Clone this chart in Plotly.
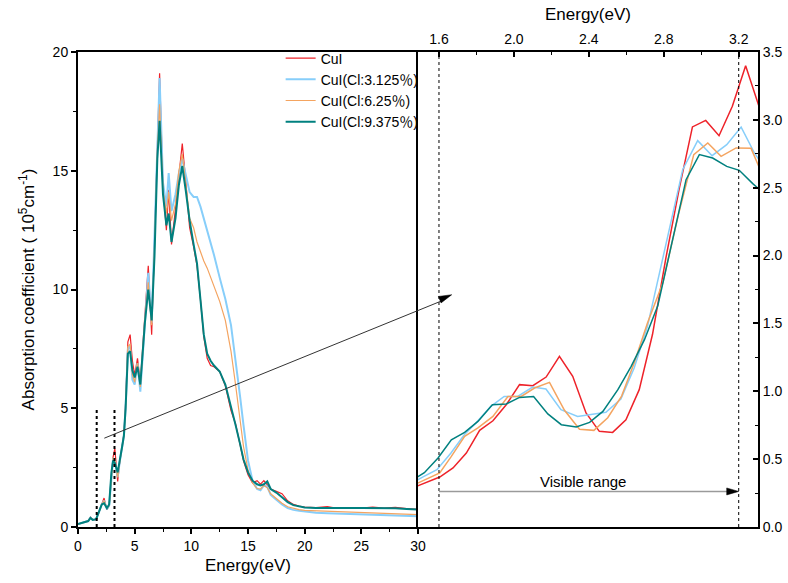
import math
import plotly.graph_objects as go

# ---------------- full spectrum, 0-30 eV (left panel) ----------------
energy = [0, 0.5, 0.9, 1.1, 1.3, 1.6, 1.9, 2.1, 2.3, 2.55,
          2.75, 2.95, 3.1, 3.25, 3.5, 3.7, 3.9, 4.05, 4.2, 4.4,
          4.6, 4.8, 5.0, 5.25, 5.5, 5.7, 5.9, 6.2, 6.5, 6.75,
          7.0, 7.2, 7.5, 7.8, 8.0, 8.25, 8.6, 8.9, 9.2, 9.5,
          9.85, 10.2, 10.5, 10.8, 11.1, 11.4, 11.7, 12.0, 12.5, 13.0,
          13.5, 13.9, 14.3, 14.6, 15.0, 15.4, 15.8, 16.1, 16.4, 16.7,
          17.0, 17.5, 18.0, 18.5, 19.0, 19.5, 20, 21, 22, 23,
          24, 25, 26, 27, 28, 29, 30]

abs_cui = [0.12, 0.18, 0.25, 0.42, 0.3, 0.32, 0.7, 0.95, 1.22, 0.73,
           0.9, 2.2, 2.95, 3.3, 1.92, 2.8, 3.5, 3.9, 5.2, 7.8,
           8.1, 7.0, 6.4, 7.1, 6.1, 7.6, 8.9, 11.0, 8.1, 12.0,
           16.2, 19.1, 14.3, 12.5, 14.2, 11.9, 13.4, 14.8, 16.15, 14.6,
           12.6, 11.8, 11.0, 9.6, 8.0, 7.1, 6.8, 6.75, 6.55, 5.95,
           4.9, 4.35, 3.4, 2.8, 2.2, 1.85, 1.95, 1.8, 1.95, 1.75,
           1.6, 1.5, 1.4, 1.1, 0.95, 0.88, 0.84, 0.82, 0.86, 0.78,
           0.82, 0.8, 0.84, 0.8, 0.83, 0.78, 0.74]

abs_cl3125 = [0.12, 0.18, 0.25, 0.4, 0.3, 0.32, 0.7, 0.95, 1.1, 0.75,
              0.9, 2.2, 2.9, 2.8, 2.1, 2.8, 3.45, 3.85, 5.0, 7.5,
              7.6, 6.2, 6.0, 6.9, 5.7, 7.2, 8.7, 10.7, 8.6, 12.0,
              16.0, 18.9, 14.5, 13.5, 14.9, 13.3, 14.0, 14.9, 15.5, 14.9,
              14.1, 13.9, 13.9, 13.5, 13.0, 12.55, 12.0, 11.45, 10.5, 9.6,
              8.5, 7.1, 5.5, 4.3, 2.8, 1.95, 1.6, 1.55, 1.75, 1.7,
              1.35, 1.15, 0.95, 0.8, 0.72, 0.68, 0.65, 0.6, 0.58, 0.56,
              0.55, 0.53, 0.5, 0.5, 0.48, 0.47, 0.45]

abs_cl625 = [0.12, 0.18, 0.25, 0.4, 0.3, 0.32, 0.7, 0.95, 1.1, 0.78,
             0.9, 2.2, 2.9, 2.85, 2.1, 2.8, 3.45, 3.85, 5.0, 7.6,
             7.7, 6.4, 6.1, 6.9, 5.9, 7.3, 8.7, 10.3, 8.5, 11.8,
             15.8, 17.8, 14.2, 13.2, 14.1, 12.9, 13.6, 15.0, 15.7, 14.5,
             13.0, 12.6, 12.0, 11.6, 11.2, 10.9, 10.5, 10.1, 9.5, 8.7,
             7.4, 6.0, 4.6, 3.4, 2.4, 1.85, 1.62, 1.6, 1.75, 1.65,
             1.4, 1.2, 1.0, 0.85, 0.78, 0.73, 0.7, 0.68, 0.66, 0.65,
             0.64, 0.63, 0.6, 0.58, 0.56, 0.54, 0.52]

abs_cl9375 = [0.12, 0.18, 0.25, 0.38, 0.3, 0.33, 0.72, 0.95, 1.0, 0.8,
              0.95, 2.3, 2.8, 2.7, 2.3, 2.8, 3.4, 3.85, 5.0, 7.3,
              7.4, 6.6, 6.3, 6.75, 6.0, 7.3, 8.6, 10.0, 8.7, 11.4,
              15.5, 17.1, 14.0, 12.7, 13.2, 12.0, 13.0, 14.4, 15.2, 14.2,
              12.9, 11.9, 11.1, 9.6, 8.1, 7.3, 7.0, 6.8, 6.55, 6.0,
              5.1, 4.3, 3.5, 2.85, 2.3, 1.95, 1.8, 1.75, 1.8, 1.92,
              1.6, 1.45, 1.25, 1.05, 0.92, 0.86, 0.82, 0.8, 0.79, 0.78,
              0.8, 0.8, 0.8, 0.8, 0.79, 0.76, 0.74]

# ---------------- visible-range detail (right panel) ----------------
vis_e_cui = [1.462, 1.533, 1.604, 1.675, 1.746, 1.817, 1.888, 1.959, 2.030, 2.101,
             2.172, 2.243, 2.314, 2.385, 2.456, 2.527, 2.598, 2.669, 2.740, 2.811,
             2.882, 2.953, 3.024, 3.095, 3.166, 3.237, 3.308]
vis_cui = [0.29, 0.33, 0.368, 0.435, 0.545, 0.712, 0.783, 0.901, 1.049, 1.041,
           1.105, 1.257, 1.11, 0.84, 0.705, 0.697, 0.79, 1.012, 1.42, 1.98,
           2.49, 2.948, 2.996, 2.883, 3.1, 3.399, 3.1]

vis_e_cl3125 = [1.44, 1.515, 1.589, 1.664, 1.735, 1.797, 1.877, 1.948, 2.02, 2.1,
                2.171, 2.251, 2.34, 2.411, 2.491, 2.571, 2.642, 2.713, 2.81, 2.901,
                2.981, 3.058, 3.136, 3.213, 3.284, 3.36]
vis_cl3125 = [0.31, 0.37, 0.422, 0.545, 0.68, 0.766, 0.889, 0.962, 0.962, 1.031,
              1.017, 0.864, 0.815, 0.827, 0.845, 0.943, 1.171, 1.478, 2.08, 2.633,
              2.847, 2.736, 2.817, 2.947, 2.756, 2.6]

vis_e_cl625 = [1.45, 1.53, 1.604, 1.666, 1.737, 1.808, 1.888, 1.968, 2.039, 2.11,
               2.19, 2.27, 2.35, 2.427, 2.501, 2.575, 2.642, 2.713, 2.795, 2.878,
               2.96, 3.035, 3.106, 3.186, 3.266, 3.34]
vis_cl625 = [0.30, 0.35, 0.398, 0.52, 0.668, 0.73, 0.815, 0.962, 0.962, 1.024,
             1.066, 0.86, 0.72, 0.712, 0.805, 0.965, 1.208, 1.503, 1.80, 2.30,
             2.744, 2.83, 2.731, 2.793, 2.79, 2.55]

vis_e_cl9375 = [1.450, 1.522, 1.595, 1.666, 1.737, 1.808, 1.885, 1.959, 2.030, 2.105,
                2.181, 2.253, 2.333, 2.404, 2.475, 2.555, 2.626, 2.697, 2.768, 2.845,
                2.919, 2.990, 3.061, 3.136, 3.203, 3.275, 3.35]
vis_cl9375 = [0.34, 0.40, 0.508, 0.643, 0.697, 0.778, 0.901, 0.906, 0.955, 0.962,
              0.833, 0.754, 0.737, 0.771, 0.852, 1.012, 1.184, 1.38, 1.63, 2.10,
              2.559, 2.744, 2.719, 2.657, 2.628, 2.53, 2.44]

names = ["CuI", "CuI(Cl:3.125％)", "CuI(Cl:6.25％)", "CuI(Cl:9.375％)"]
colors = ["#ee2229", "#87cefa", "#f4a460", "#00807f"]
left_widths = [1.2, 2.0, 1.2, 2.0]

full_series = [abs_cui, abs_cl3125, abs_cl625, abs_cl9375]
vis_series = [(vis_e_cui, vis_cui), (vis_e_cl3125, vis_cl3125),
              (vis_e_cl625, vis_cl625), (vis_e_cl9375, vis_cl9375)]

FONT = "Liberation Sans, Arial, Noto Sans CJK SC, sans-serif"

fig = go.Figure()
for name, col, w, ys in zip(names, colors, left_widths, full_series):
    fig.add_trace(go.Scatter(x=energy, y=ys, mode="lines", name=name,
                             line=dict(color=col, width=w),
                             xaxis="x", yaxis="y"))
for name, col, (xs, ys) in zip(names, colors, vis_series):
    fig.add_trace(go.Scatter(x=xs, y=ys, mode="lines", name=name,
                             showlegend=False, line=dict(color=col, width=1.5),
                             xaxis="x2", yaxis="y2"))

axis_common = dict(showgrid=False, zeroline=False, showline=True,
                   linecolor="black", linewidth=2,
                   tickcolor="black", tickwidth=1.5, ticklen=5,
                   tickfont=dict(size=14), automargin=False)

fig.update_layout(
    width=788, height=583,
    margin=dict(l=78, r=30, t=52, b=56),
    paper_bgcolor="white", plot_bgcolor="white",
    font=dict(family=FONT, size=14, color="black"),
    showlegend=True,
    legend=dict(x=0.298, y=1.020, xanchor="left", yanchor="top",
                bgcolor="rgba(0,0,0,0)", font=dict(size=14),
                tracegroupgap=0, itemwidth=30),
    xaxis=dict(domain=[0, 0.5], range=[0, 30], tick0=0, dtick=5, ticks="outside",
               anchor="y", mirror=True,
               minor=dict(dtick=2.5, ticks="outside", ticklen=3, tickwidth=1.2,
                          tickcolor="black"),
               title=dict(text="Energy(eV)", font=dict(size=17), standoff=6),
               **axis_common),
    # the right edge of this panel is drawn by the zoomed panel's axis line
    yaxis=dict(domain=[0, 1], range=[0, 20], tick0=0, dtick=5, ticks="outside",
               anchor="x", mirror=False,
               minor=dict(dtick=2.5, ticks="outside", ticklen=3, tickwidth=1.2,
                          tickcolor="black"),
               title=dict(text="Absorption coefficient ( 10<sup>5</sup>cm<sup>-1</sup>)",
                          font=dict(size=17), standoff=14),
               **axis_common),
    xaxis2=dict(domain=[0.5, 1], range=[1.488, 3.303], side="top", anchor="y2",
                mirror=True, tick0=1.6, dtick=0.4, tickformat=".1f", ticks="inside",
                minor=dict(dtick=0.2, ticks="inside", ticklen=3, tickwidth=1.2,
                           tickcolor="black"),
                title=dict(text="Energy(eV)", font=dict(size=17), standoff=6),
                **axis_common),
    yaxis2=dict(domain=[0, 1], range=[0, 3.5], side="right", anchor="x2",
                mirror=True, tick0=0, dtick=0.5, tickformat=".1f", ticks="inside",
                minor=dict(dtick=0.25, ticks="inside", ticklen=3, tickwidth=1.2,
                           tickcolor="black"),
                **axis_common),
)


def arrow_head(xref, yref, x, y, dx, dy, length, half_width):
    """Filled triangular head with its tip at (x, y), pointing along the
    screen direction (dx, dy) given in pixels with y pointing up."""
    n = math.hypot(dx, dy)
    ux, uy = dx / n, dy / n
    px, py = -uy, ux
    bx, by = -length * ux, -length * uy
    p1 = (bx + half_width * px, by + half_width * py)
    p2 = (bx - half_width * px, by - half_width * py)
    path = f"M 0 0 L {p1[0]:.2f} {p1[1]:.2f} L {p2[0]:.2f} {p2[1]:.2f} Z"
    fig.add_shape(type="path", xref=xref, yref=yref, xsizemode="pixel",
                  ysizemode="pixel", xanchor=x, yanchor=y, path=path,
                  fillcolor="black", line=dict(color="black", width=0.5))


# dotted markers of the visible window on the full spectrum
for xv in (1.65, 3.22):
    fig.add_shape(type="line", xref="x", yref="y", x0=xv, x1=xv, y0=0, y1=5,
                  line=dict(color="black", width=2, dash="dot"))

# visible window boundaries on the zoomed panel
for xv in (1.6, 3.2):
    fig.add_shape(type="line", xref="x2", yref="y2", x0=xv, x1=xv, y0=0, y1=3.5,
                  line=dict(color="black", width=1, dash="dot"))

# "Visible range" span arrow
span_y = 0.262
fig.add_shape(type="line", xref="x2", yref="y2", x0=1.6, x1=3.17, y0=span_y, y1=span_y,
              line=dict(color="#9a9a9a", width=1.5))
arrow_head("x2", "y2", 3.2, span_y, 1, 0, 12, 3.5)
fig.add_annotation(xref="x2", yref="y2", x=2.37, y=0.335, text="Visible range",
                   showarrow=False, font=dict(size=15), yanchor="middle")

# pointer from the full spectrum into the zoomed panel
tail = (0.0387, 0.187)
tip = (0.5496, 0.489)
fig.add_shape(type="line", xref="paper", yref="paper",
              x0=tail[0], y0=tail[1], x1=tip[0] - 0.014, y1=tip[1] - 0.0125,
              line=dict(color="#333333", width=1))
arrow_head("paper", "paper", tip[0], tip[1],
           (tip[0] - tail[0]) * 680, (tip[1] - tail[1]) * 475, 13, 3.5)

fig.write_html("out.html")
